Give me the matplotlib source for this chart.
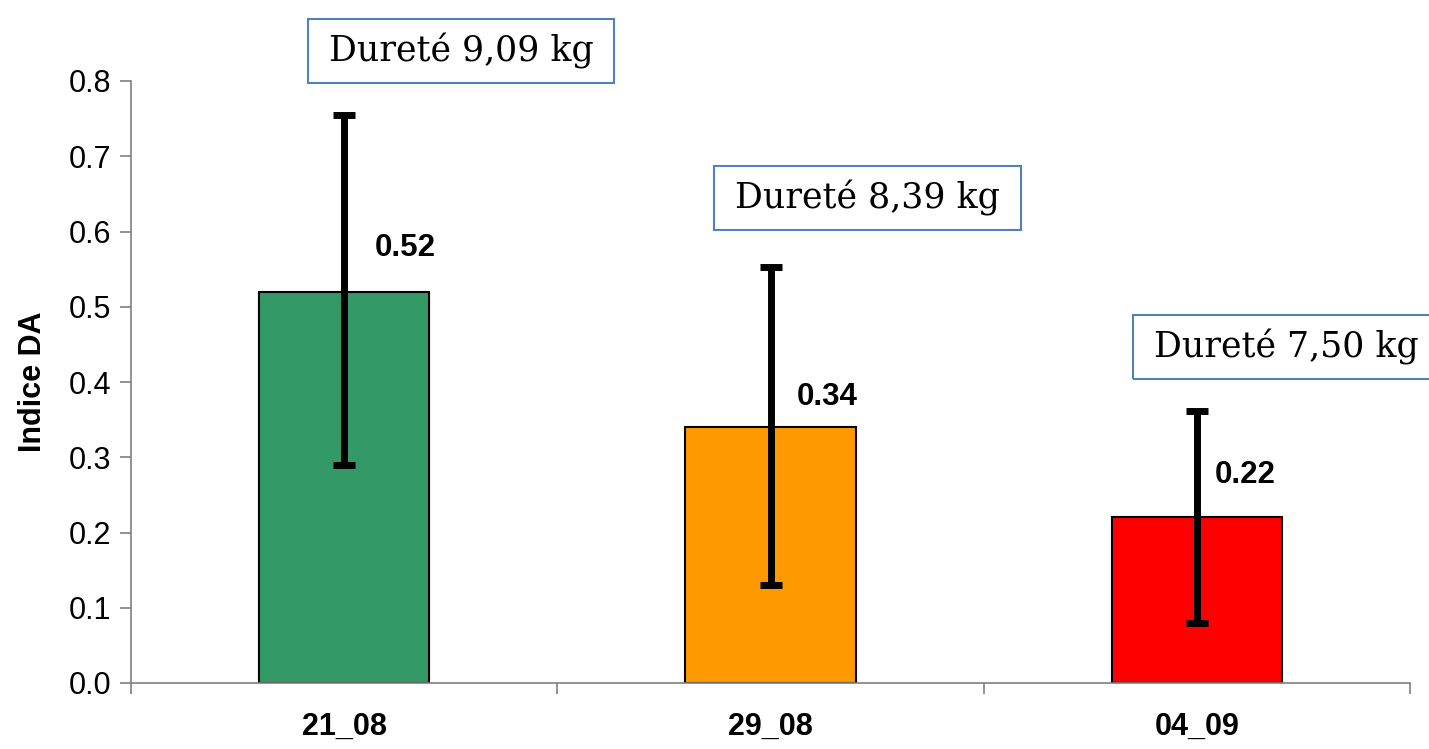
import matplotlib
matplotlib.use("Agg")
import matplotlib.pyplot as plt
from matplotlib.patches import Rectangle
import numpy as np

categories = ["21_08", "29_08", "04_09"]
values = [0.52, 0.34, 0.22]
err_low = [0.23, 0.21, 0.14]
err_high = [0.235, 0.213, 0.142]
colors = ["#339966", "#FF9900", "#FF0000"]
value_labels = ["0.52", "0.34", "0.22"]
hardness_labels = ["Dureté 9,09 kg", "Dureté 8,39 kg", "Dureté 7,50 kg"]
yticks = [0.0, 0.1, 0.2, 0.3, 0.4, 0.5, 0.6, 0.7, 0.8]

plt.rcParams['font.family'] = ['Liberation Sans', 'DejaVu Sans']

W, H = 1429, 749
fig = plt.figure(figsize=(W / 100, H / 100), dpi=100)
ax = fig.add_axes([131/W, 1-683/H, (1410-131)/W, (683-81)/H])

x = np.arange(len(categories))
ax.bar(x, values, width=0.4, color=colors, edgecolor="black", linewidth=1.5, zorder=2)
ax.errorbar(x, values, yerr=[err_low, err_high], fmt="none", ecolor="black",
            elinewidth=5, capsize=8, capthick=5, zorder=3)

# value label placement (offsets relative to bar centre / top)
lab_dx = [0.143, 0.134, 0.113]
lab_dy = [0.058, 0.040, 0.056]
for i, (v, lab) in enumerate(zip(values, value_labels)):
    ax.text(x[i] + lab_dx[i], v + lab_dy[i], lab, ha="center", va="center",
            fontsize=22.5, fontweight="bold", zorder=4)

box_pos = [(0.274, 0.840), (1.227, 0.644), (2.21, 0.446)]
texts = []
for (bx, by), lab in zip(box_pos, hardness_labels):
    t = ax.text(bx, by, lab, ha="center", va="center", fontsize=25,
                family="DejaVu Serif", clip_on=False, zorder=5)
    texts.append(t)

ax.set_xlim(-0.5, 2.5)
ax.set_ylim(0, 0.8)
ax.set_yticks(yticks)
ax.set_yticklabels([f"{t:.1f}" for t in yticks], fontsize=22)
ax.set_xticks(x)
ax.set_xticklabels(categories, fontsize=22, fontweight="bold")
ax.tick_params(axis="x", which="major", length=0, pad=21)
ax.set_xticks([-0.5, 0.5, 1.5, 2.5], minor=True)
ax.tick_params(axis="x", which="minor", length=8, color="#808080", width=1.2, direction="out")
ax.tick_params(axis="y", length=8, color="#808080", width=1.2, direction="out", pad=6)
ax.set_ylabel("Indice DA", fontsize=22, fontweight="bold", labelpad=15)

for s in ["top", "right"]:
    ax.spines[s].set_visible(False)
for s in ["left", "bottom"]:
    ax.spines[s].set_color("#808080")
    ax.spines[s].set_linewidth(1.2)

fig.canvas.draw()
renderer = fig.canvas.get_renderer()
padx, pady = 21, 14
for t in texts:
    bb = t.get_window_extent(renderer)
    x0, y0 = bb.x0 - padx, bb.y0 - pady
    w, h = bb.width + 2 * padx, bb.height + 2 * pady
    fig.add_artist(Rectangle((x0 / W, y0 / H), w / W, h / H, transform=fig.transFigure,
                             facecolor="none", edgecolor="#4F81BD", linewidth=1.5,
                             zorder=6))

fig.savefig("out.png", dpi=100)
